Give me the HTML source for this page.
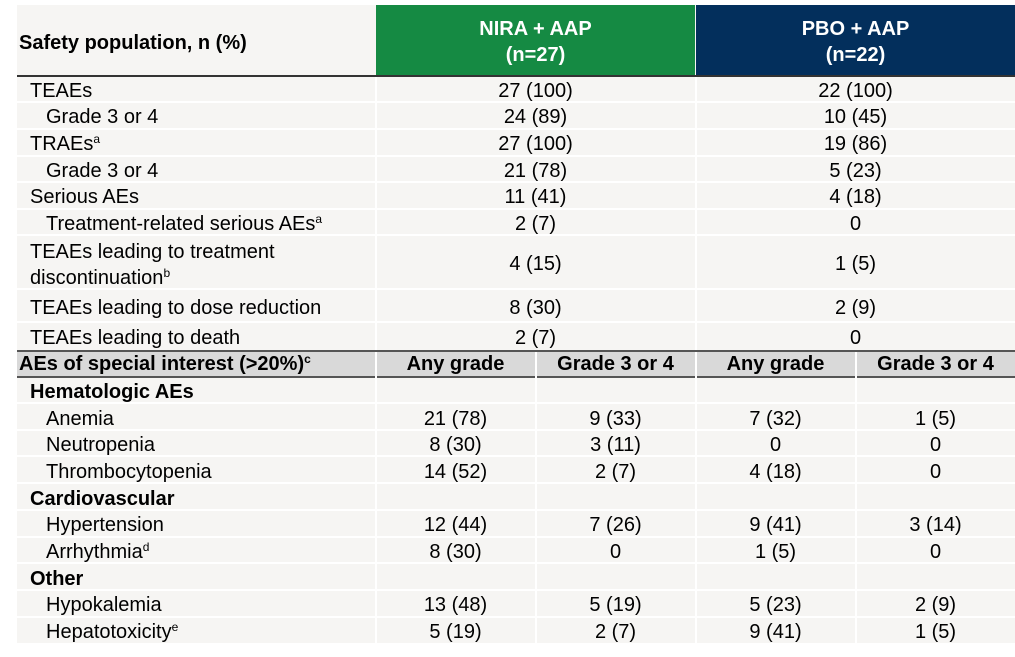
<!DOCTYPE html>
<html><head><meta charset="utf-8"><style>
body{margin:0;width:1015px;height:657px;background:#fff;position:relative;font-family:"Liberation Sans",Arial,sans-serif;color:#000;overflow:hidden}
.r{position:absolute;left:17px;width:998px;background:#f6f5f3;border-bottom:2px solid #fff;box-sizing:border-box}
.t{position:absolute;font-size:20px;white-space:nowrap;line-height:20px;margin-top:1px}
.c{position:absolute;font-size:20px;text-align:center;white-space:nowrap;line-height:20px;margin-top:1px}
.b{font-weight:bold}
sup{font-size:12px;vertical-align:7px;line-height:0}
.v{position:absolute;width:2px;background:#fff}
</style></head><body>
<div class="r" style="top:5px;height:71px;border-bottom:none"></div>
<div style="position:absolute;left:376px;top:5px;width:319px;height:71px;background:#158a43"></div>
<div style="position:absolute;left:696px;top:5px;width:319px;height:71px;background:#032f5c"></div>
<div style="position:absolute;left:17px;top:75px;width:998px;height:2px;background:#333"></div>
<div class="t b" style="left:19px;top:32px">Safety population, n (%)</div>
<div class="c b" style="left:376px;width:319px;top:15px;color:#fff;line-height:26px">NIRA + AAP<br>(n=27)</div>
<div class="c b" style="left:696px;width:319px;top:15px;color:#fff;line-height:26px">PBO + AAP<br>(n=22)</div>

<div class="r" style="top:77px;height:26px"></div>
<div class="r" style="top:103px;height:27px"></div>
<div class="r" style="top:130px;height:27px"></div>
<div class="r" style="top:157px;height:26px"></div>
<div class="r" style="top:183px;height:27px"></div>
<div class="r" style="top:210px;height:26px"></div>
<div class="r" style="top:236px;height:54px"></div>
<div class="r" style="top:290px;height:33px"></div>
<div class="r" style="top:323px;height:28px;border-bottom:none"></div>
<div class="v" style="left:375px;top:77px;height:274px"></div>
<div class="v" style="left:695px;top:77px;height:274px"></div>

<div class="t" style="left:30px;top:80px">TEAEs</div><div class="c" style="left:376px;width:319px;top:80px">27 (100)</div><div class="c" style="left:696px;width:319px;top:80px">22 (100)</div>
<div class="t" style="left:46px;top:106px">Grade 3 or 4</div><div class="c" style="left:376px;width:319px;top:106px">24 (89)</div><div class="c" style="left:696px;width:319px;top:106px">10 (45)</div>
<div class="t" style="left:30px;top:133px">TRAEs<sup>a</sup></div><div class="c" style="left:376px;width:319px;top:133px">27 (100)</div><div class="c" style="left:696px;width:319px;top:133px">19 (86)</div>
<div class="t" style="left:46px;top:160px">Grade 3 or 4</div><div class="c" style="left:376px;width:319px;top:160px">21 (78)</div><div class="c" style="left:696px;width:319px;top:160px">5 (23)</div>
<div class="t" style="left:30px;top:186px">Serious AEs</div><div class="c" style="left:376px;width:319px;top:186px">11 (41)</div><div class="c" style="left:696px;width:319px;top:186px">4 (18)</div>
<div class="t" style="left:46px;top:213px">Treatment-related serious AEs<sup>a</sup></div><div class="c" style="left:376px;width:319px;top:213px">2 (7)</div><div class="c" style="left:696px;width:319px;top:213px">0</div>
<div class="t" style="left:30px;top:238px;line-height:26px">TEAEs leading to treatment<br>discontinuation<sup>b</sup></div><div class="c" style="left:376px;width:319px;top:253px">4 (15)</div><div class="c" style="left:696px;width:319px;top:253px">1 (5)</div>
<div class="t" style="left:30px;top:297px">TEAEs leading to dose reduction</div><div class="c" style="left:376px;width:319px;top:297px">8 (30)</div><div class="c" style="left:696px;width:319px;top:297px">2 (9)</div>
<div class="t" style="left:30px;top:327px">TEAEs leading to death</div><div class="c" style="left:376px;width:319px;top:327px">2 (7)</div><div class="c" style="left:696px;width:319px;top:327px">0</div>

<div style="position:absolute;left:17px;top:350px;width:998px;height:28px;background:#d9d9d9;border-top:2px solid #555;border-bottom:2px solid #555;box-sizing:border-box"></div>
<div class="t b" style="left:19px;top:353px">AEs of special interest (&gt;20%)<sup>c</sup></div>
<div class="c b" style="left:376px;width:159px;top:353px">Any grade</div>
<div class="c b" style="left:536px;width:159px;top:353px">Grade 3 or 4</div>
<div class="c b" style="left:696px;width:159px;top:353px">Any grade</div>
<div class="c b" style="left:856px;width:159px;top:353px">Grade 3 or 4</div>

<div class="r" style="top:378px;height:26px"></div>
<div class="r" style="top:404px;height:27px"></div>
<div class="r" style="top:431px;height:26px"></div>
<div class="r" style="top:457px;height:27px"></div>
<div class="r" style="top:484px;height:27px"></div>
<div class="r" style="top:511px;height:27px"></div>
<div class="r" style="top:538px;height:26px"></div>
<div class="r" style="top:564px;height:27px"></div>
<div class="r" style="top:591px;height:27px"></div>
<div class="r" style="top:618px;height:25px;border-bottom:none"></div>
<div class="v" style="left:375px;top:352px;height:291px"></div>
<div class="v" style="left:535px;top:352px;height:291px"></div>
<div class="v" style="left:695px;top:352px;height:291px"></div>
<div class="v" style="left:855px;top:352px;height:291px"></div>

<div class="t b" style="left:30px;top:381px">Hematologic AEs</div>
<div class="t" style="left:46px;top:408px">Anemia</div><div class="c" style="left:376px;width:159px;top:408px">21 (78)</div><div class="c" style="left:536px;width:159px;top:408px">9 (33)</div><div class="c" style="left:696px;width:159px;top:408px">7 (32)</div><div class="c" style="left:856px;width:159px;top:408px">1 (5)</div>
<div class="t" style="left:46px;top:434px">Neutropenia</div><div class="c" style="left:376px;width:159px;top:434px">8 (30)</div><div class="c" style="left:536px;width:159px;top:434px">3 (11)</div><div class="c" style="left:696px;width:159px;top:434px">0</div><div class="c" style="left:856px;width:159px;top:434px">0</div>
<div class="t" style="left:46px;top:461px">Thrombocytopenia</div><div class="c" style="left:376px;width:159px;top:461px">14 (52)</div><div class="c" style="left:536px;width:159px;top:461px">2 (7)</div><div class="c" style="left:696px;width:159px;top:461px">4 (18)</div><div class="c" style="left:856px;width:159px;top:461px">0</div>
<div class="t b" style="left:30px;top:488px">Cardiovascular</div>
<div class="t" style="left:46px;top:514px">Hypertension</div><div class="c" style="left:376px;width:159px;top:514px">12 (44)</div><div class="c" style="left:536px;width:159px;top:514px">7 (26)</div><div class="c" style="left:696px;width:159px;top:514px">9 (41)</div><div class="c" style="left:856px;width:159px;top:514px">3 (14)</div>
<div class="t" style="left:46px;top:541px">Arrhythmia<sup>d</sup></div><div class="c" style="left:376px;width:159px;top:541px">8 (30)</div><div class="c" style="left:536px;width:159px;top:541px">0</div><div class="c" style="left:696px;width:159px;top:541px">1 (5)</div><div class="c" style="left:856px;width:159px;top:541px">0</div>
<div class="t b" style="left:30px;top:568px">Other</div>
<div class="t" style="left:46px;top:594px">Hypokalemia</div><div class="c" style="left:376px;width:159px;top:594px">13 (48)</div><div class="c" style="left:536px;width:159px;top:594px">5 (19)</div><div class="c" style="left:696px;width:159px;top:594px">5 (23)</div><div class="c" style="left:856px;width:159px;top:594px">2 (9)</div>
<div class="t" style="left:46px;top:621px">Hepatotoxicity<sup>e</sup></div><div class="c" style="left:376px;width:159px;top:621px">5 (19)</div><div class="c" style="left:536px;width:159px;top:621px">2 (7)</div><div class="c" style="left:696px;width:159px;top:621px">9 (41)</div><div class="c" style="left:856px;width:159px;top:621px">1 (5)</div>
</body></html>
